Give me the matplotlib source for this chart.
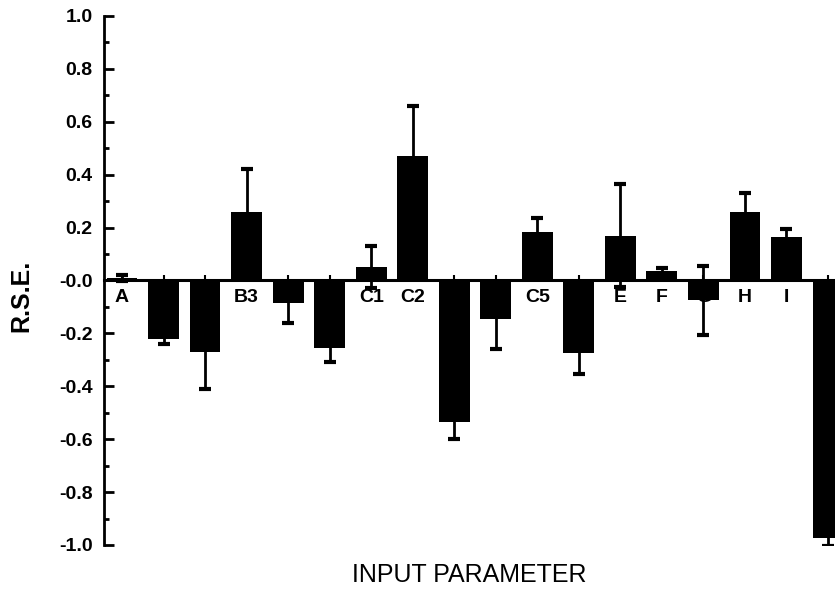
import numpy as np
import matplotlib
matplotlib.use("Agg")
import matplotlib.pyplot as plt
from matplotlib.ticker import MultipleLocator

plt.rcParams["font.family"] = ["Liberation Sans", "DejaVu Sans"]

# Datos
parametros = ["A", "B1", "B2", "B3", "B4", "B5", "C1", "C2", "C3",
              "C4", "C5", "D", "E", "F", "G", "H", "I", "J"]
rse = [0.01, -0.22, -0.27, 0.26, -0.085, -0.255, 0.05, 0.47, -0.535,
       -0.145, 0.185, -0.275, 0.17, 0.035, -0.075, 0.26, 0.165, -0.975]
error = [0.012, 0.02, 0.14, 0.16, 0.075, 0.055, 0.08, 0.19, 0.065,
         0.115, 0.05, 0.08, 0.195, 0.012, 0.13, 0.07, 0.03, 0.03]

x = np.arange(len(parametros))

fig = plt.figure(figsize=(8.35, 5.92), dpi=100)
ax = fig.add_axes([0.124, 0.0794, 0.876, 0.8936])

# barras encima de las etiquetas del eje x
ax.set_axisbelow(True)
ax.bar(x, rse, width=0.74, color="black", zorder=1)
ax.errorbar(x, rse, yerr=error, fmt="none", ecolor="black",
            elinewidth=2, capsize=4.5, capthick=3, zorder=2)

ax.set_xlim(-0.446, 17.17)
ax.set_ylim(-1.0, 1.0)

# eje x sobre la linea cero
ax.spines["bottom"].set_position(("data", 0))
ax.spines["bottom"].set_linewidth(2.2)
ax.spines["left"].set_linewidth(2)
ax.spines["top"].set_visible(False)
ax.spines["right"].set_visible(False)

ax.set_xticks(x)
ax.set_xticklabels(parametros, fontsize=14, fontweight="bold")
ax.tick_params(axis="x", direction="in", length=3.5, width=1.5, pad=6)

yticks = np.arange(-1.0, 1.01, 0.2)
ax.set_yticks(yticks)
ax.set_yticklabels([f"{v:.1f}" for v in yticks], fontsize=14, fontweight="bold")
ax.yaxis.set_minor_locator(MultipleLocator(0.1))
ax.tick_params(axis="y", which="major", direction="in", length=7, width=2, pad=8)
ax.tick_params(axis="y", which="minor", direction="in", length=3.5, width=2)

ax.set_ylabel("R.S.E.", fontsize=18, fontweight="bold")
ax.yaxis.set_label_coords(-0.096, 0.47)
ax.text(0.5, -0.057, "INPUT PARAMETER", transform=ax.transAxes,
        ha="center", va="center", fontsize=18)

plt.savefig("out.png", dpi=100)
